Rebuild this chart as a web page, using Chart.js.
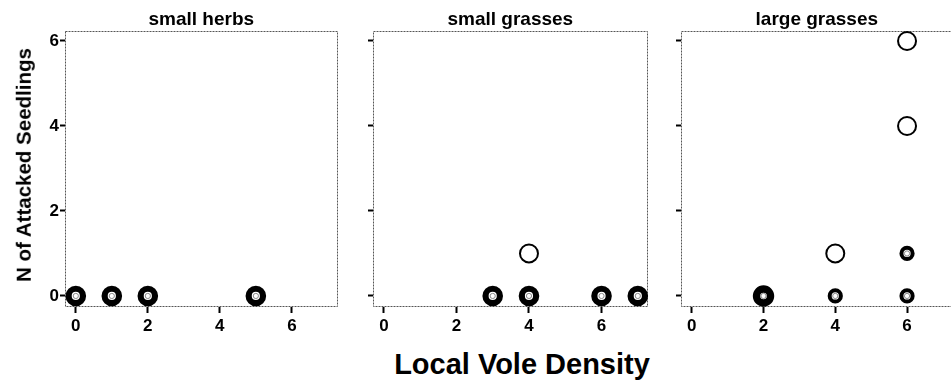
<!DOCTYPE html>
<html><head><meta charset="utf-8">
<script src="https://cdn.jsdelivr.net/npm/chart.js@4.4.1/dist/chart.umd.min.js"></script>
<style>
html,body{margin:0;padding:0;background:#fff;width:951px;height:390px;overflow:hidden;}
body{position:relative;font-family:"Liberation Sans",Arial,sans-serif;}
.panel{position:absolute;top:0;}
.lbl{position:absolute;white-space:nowrap;font-weight:bold;color:#000;line-height:1;font-family:"Liberation Sans",Arial,sans-serif;}
#ytitle{left:24px;top:165px;font-size:20.5px;transform:translate(-50%,-50%) rotate(-90deg);}
#xtitle{left:522px;top:364px;font-size:29px;transform:translate(-50%,-50%);}
</style></head><body>
<canvas id="c0" class="panel" style="left:0px" width="351" height="340"></canvas>
<canvas id="c1" class="panel" style="left:351px" width="310" height="340"></canvas>
<canvas id="c2" class="panel" style="left:661px" width="306" height="340"></canvas>
<div id="ytitle" class="lbl">N of Attacked Seedlings</div>
<div id="xtitle" class="lbl">Local Vole Density</div>
<script>
// ---- data ----
const panelTitles = ["small herbs", "small grasses", "large grasses"];
const xTicks = [0, 2, 4, 6];
const yTicks = [0, 2, 4, 6];
// small herbs
const herbsX = [0, 1, 2, 5];
const herbsY = [0, 0, 0, 0];
const herbsN = [4, 4, 4, 4];
// small grasses
const smallGrassX = [3, 4, 4, 6, 7];
const smallGrassY = [0, 0, 1, 0, 0];
const smallGrassN = [4, 4, 1, 4, 4];
// large grasses
const largeGrassX = [2, 4, 4, 6, 6, 6, 6];
const largeGrassY = [0, 0, 1, 0, 1, 4, 6];
const largeGrassN = [6, 2, 1, 2, 2, 1, 1];

const panelData = [
  [herbsX, herbsY, herbsN],
  [smallGrassX, smallGrassY, smallGrassN],
  [largeGrassX, largeGrassY, largeGrassN]
];

// ---- styling ----
const FONT = "'Liberation Sans', Arial, sans-serif";
function ringRadius(n){ return n <= 1 ? 9 : n === 2 ? 5.6 : n >= 6 ? 7 : 7.2; }
function ringWidth(n){ return n <= 1 ? 2 : n === 2 ? 4 : n >= 6 ? 7.4 : 6.2; }

const framePlugin = {
  id: 'frame',
  beforeDatasetsDraw(chart){
    const {ctx, chartArea: a} = chart;
    ctx.save();
    ctx.strokeStyle = '#555';
    ctx.lineWidth = 1;
    ctx.setLineDash([2, 1]);
    ctx.strokeRect(Math.round(a.left) + 0.5, Math.round(a.top) + 0.5,
                   Math.round(a.right - a.left) - 1, Math.round(a.bottom - a.top) - 1);
    ctx.restore();
  }
};

const panelGeom = [
  {yWidth: 65, padRight: 8, showY: true},
  {yWidth: 22, padRight: 10, showY: false},
  {yWidth: 20, padRight: 8, showY: false}
];

panelData.forEach((pd, i) => {
  const [xs, ys, ns] = pd;
  const pts = xs.map((x, k) => ({x: x, y: ys[k], n: ns[k]}));
  const multi = pts.filter(p => p.n > 1);
  const g = panelGeom[i];
  new Chart(document.getElementById('c' + i), {
    type: 'scatter',
    data: {
      datasets: [
        {
          data: pts,
          clip: false,
          backgroundColor: 'rgba(0,0,0,0)',
          borderColor: '#000',
          pointStyle: 'circle',
          pointRadius: c => ringRadius(c.raw ? c.raw.n : 1),
          pointBorderWidth: c => ringWidth(c.raw ? c.raw.n : 1),
          pointHoverRadius: c => ringRadius(c.raw ? c.raw.n : 1)
        },
        {
          data: multi,
          clip: false,
          backgroundColor: 'rgba(0,0,0,0)',
          borderColor: '#8a8a8a',
          pointRadius: 2.6,
          pointBorderWidth: 1
        }
      ]
    },
    options: {
      responsive: false,
      animation: false,
      events: [],
      layout: {padding: {left: 0, right: g.padRight, top: 0, bottom: 0}},
      plugins: {
        legend: {display: false},
        tooltip: {enabled: false},
        title: {
          display: true,
          text: panelTitles[i],
          fullSize: false,
          color: '#000',
          font: {family: FONT, size: 19, weight: 'bold', lineHeight: 22 / 19},
          padding: {top: 9, bottom: 0}
        }
      },
      scales: {
        x: {
          type: 'linear',
          min: -0.3, max: 7.27,
          afterBuildTicks: s => { s.ticks = xTicks.map(v => ({value: v})); },
          afterFit: s => { s.height = 33; },
          border: {display: false},
          grid: {drawOnChartArea: false, drawTicks: true, tickLength: 6, tickWidth: 2, tickColor: '#000'},
          ticks: {color: '#000', padding: 3, maxRotation: 0, font: {family: FONT, size: 17, weight: 'bold'}}
        },
        y: {
          type: 'linear',
          min: -0.26, max: 6.235,
          afterBuildTicks: s => { s.ticks = yTicks.map(v => ({value: v})); },
          afterFit: s => { s.width = g.yWidth; },
          border: {display: false},
          grid: {drawOnChartArea: false, drawTicks: true, tickLength: 5, tickWidth: 2, tickColor: '#000'},
          ticks: {color: g.showY ? '#000' : 'rgba(0,0,0,0)', padding: 1, font: {family: FONT, size: 17, weight: 'bold'}}
        }
      }
    },
    plugins: [framePlugin]
  });
});
</script>
</body></html>
